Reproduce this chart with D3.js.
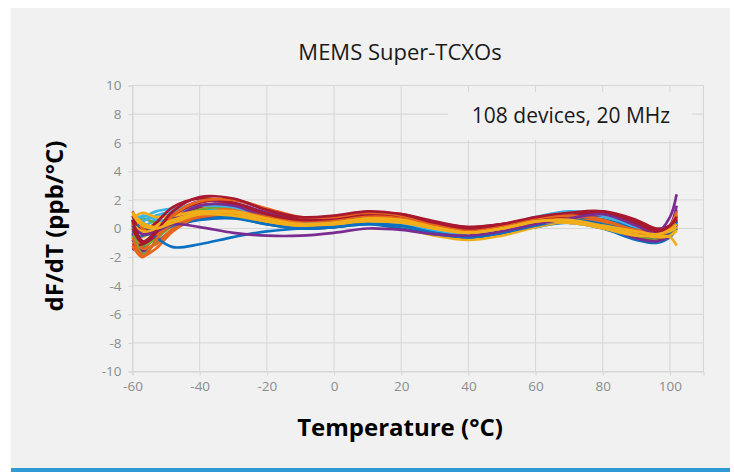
<!DOCTYPE html>
<html>
<head>
<meta charset="utf-8">
<script src="https://cdn.jsdelivr.net/npm/d3@7"></script>
<style>
  body { margin: 0; background: #fff; }
  svg { display: block; font-family: "Open Sans", sans-serif; }
</style>
</head>
<body>
<div id="chart"></div>
<script>
var temps = [-60, -57, -53, -48, -40, -30, -20, -10, 0, 10, 20, 30, 40, 50, 60, 70, 80, 90, 96, 100, 102];

var yTicks = [-10, -8, -6, -4, -2, 0, 2, 4, 6, 8, 10];
var xTicks = [-60, -40, -20, 0, 20, 40, 60, 80, 100];

// dF/dT (ppb/°C), a representative subset of the 108 curves
var series = [
    [-0.4, -1.3, -0.6, 0.4, 1.1, 1.2, 0.6, 0.2, 0.2, 0.4, 0.1, -0.4, -0.7, -0.4, 0.1, 0.4, 0.0, -0.8, -1.0, -0.6, 0.0],
    [0.7, 0.2, 0.6, 1.1, 1.5, 1.3, 0.6, 0.2, 0.3, 0.6, 0.3, -0.3, -0.6, -0.2, 0.6, 1.1, 1.0, 0.3, -0.2, 0.0, 0.8],
    [-1.0, -1.5, -0.4, 0.8, 1.6, 1.7, 1.1, 0.6, 0.7, 1.0, 0.8, 0.2, -0.2, 0.0, 0.4, 0.6, 0.7, -0.3, -0.8, -0.3, 1.3],
    [0.5, -0.4, -0.3, 0.3, 0.9, 0.8, 0.3, 0.0, 0.1, 0.4, 0.1, -0.5, -0.8, -0.5, 0.1, 0.5, 0.3, -0.5, -0.7, -0.4, 0.4],
    [-0.3, -1.1, -0.2, 1.0, 1.9, 1.8, 1.1, 0.6, 0.7, 1.0, 0.8, 0.3, -0.1, 0.1, 0.5, 0.8, 1.0, 0.1, -0.5, -0.2, 0.9],
    [0.1, 0.7, 0.4, 0.7, 1.2, 1.2, 0.7, 0.4, 0.5, 0.8, 0.6, 0.1, -0.2, 0.1, 0.6, 0.8, 0.4, -0.3, -0.5, -0.2, 0.5],
    [0.5, 0.0, 0.3, 0.8, 1.1, 1.0, 0.4, 0.0, 0.2, 0.5, 0.3, -0.3, -0.6, -0.2, 0.4, 0.7, 0.5, -0.3, -0.5, -0.3, 0.3],
    [-0.2, -0.6, 0.2, 0.9, 1.4, 1.3, 0.6, 0.2, 0.3, 0.6, 0.4, -0.1, -0.4, -0.1, 0.4, 0.6, 0.3, -0.3, -0.6, -0.4, -0.2],
    [-1.5, -1.0, -0.6, 0.3, 1.0, 1.2, 0.7, 0.4, 0.6, 0.9, 0.8, 0.3, 0.0, 0.2, 0.5, 0.7, 0.3, -0.6, -0.8, -0.3, 0.5],
    [0.0, 0.9, 0.6, 0.5, 0.7, 0.8, 0.5, 0.2, 0.2, 0.4, 0.3, -0.2, -0.5, -0.1, 0.5, 1.0, 0.8, 0.1, -0.2, 0.0, 0.4],
    [-0.5, -1.2, -0.7, 0.2, 0.9, 1.1, 0.6, 0.3, 0.4, 0.7, 0.5, 0.0, -0.2, 0.0, 0.4, 0.5, 0.2, -0.5, -0.7, -0.4, 0.2],
    [-0.8, -1.6, -1.0, -0.1, 0.7, 0.9, 0.4, 0.1, 0.3, 0.6, 0.4, -0.1, -0.3, 0.0, 0.4, 0.6, 0.2, -0.7, -0.9, -0.5, 0.6],
    [0.4, -1.4, -1.1, 0.0, 1.0, 1.4, 0.9, 0.5, 0.6, 0.9, 0.7, 0.2, -0.1, 0.1, 0.5, 0.7, 0.4, -0.4, -0.6, -0.2, 0.3],
    [-0.9, -0.5, -0.3, 0.2, 0.6, 0.7, 0.3, 0.0, 0.1, 0.4, 0.2, -0.3, -0.5, -0.2, 0.3, 0.5, 0.2, -0.4, -0.6, -0.4, 0.1],
    [0.2, 0.5, 0.9, 1.2, 1.3, 1.1, 0.6, 0.3, 0.3, 0.5, 0.4, 0.0, -0.3, 0.1, 0.6, 1.0, 0.9, 0.2, -0.1, 0.1, 0.2],
    [-1.2, -1.1, -0.5, 0.5, 1.5, 1.7, 1.0, 0.5, 0.6, 0.9, 0.8, 0.3, -0.1, 0.1, 0.5, 0.8, 0.9, 0.0, -0.6, -0.4, 0.3],
    [0.3, -1.8, -0.9, 0.6, 1.3, 1.5, 0.9, 0.5, 0.6, 0.9, 0.7, 0.2, -0.1, 0.1, 0.6, 0.8, 0.5, -0.2, -0.4, 0.0, 0.9],
    [0.8, 0.3, 0.0, 0.5, 0.9, 0.8, 0.3, 0.0, 0.1, 0.3, 0.2, -0.3, -0.6, -0.3, 0.3, 0.7, 0.6, 0.0, -0.4, -0.3, 0.0],
    [0.9, 0.8, 1.2, 1.4, 1.6, 1.5, 0.8, 0.4, 0.4, 0.6, 0.4, -0.1, -0.3, 0.2, 0.8, 1.2, 0.9, 0.1, -0.2, 0.1, 0.6],
    [0.6, -0.9, -0.4, 0.6, 1.6, 1.6, 0.8, 0.3, 0.4, 0.7, 0.5, 0.0, -0.2, 0.1, 0.5, 0.9, 1.1, 0.3, -0.4, 0.2, 1.6],
    [-0.6, -1.9, -1.4, -0.2, 0.9, 1.2, 0.8, 0.5, 0.6, 0.9, 0.7, 0.2, -0.2, 0.0, 0.5, 0.7, 0.3, -0.4, -0.5, -0.1, 0.6],
    [0.7, 1.1, 0.8, 0.9, 1.2, 1.0, 0.5, 0.2, 0.3, 0.5, 0.4, 0.0, -0.3, 0.0, 0.4, 0.5, 0.1, -0.4, -0.6, -0.5, -0.1],
    [0.9, -0.2, 0.4, 1.5, 2.1, 1.8, 1.0, 0.6, 0.7, 1.0, 0.9, 0.4, 0.1, 0.3, 0.7, 0.9, 1.1, 0.5, -0.1, 0.1, 0.7],
    [1.2, 0.0, -0.4, 0.3, 0.8, 1.0, 0.6, 0.3, 0.4, 0.7, 0.6, 0.1, -0.2, 0.0, 0.4, 0.6, 0.5, -0.1, -0.2, 0.2, 1.2],
    [-0.3, 0.4, -0.6, -1.3, -1.1, -0.6, -0.2, 0.0, 0.1, 0.3, 0.0, -0.4, -0.6, -0.3, 0.2, 0.6, 0.3, -0.3, -0.4, -0.2, 0.5],
    [0.3, -0.2, -0.1, 0.5, 1.0, 0.9, 0.5, 0.3, 0.4, 0.7, 0.6, 0.1, -0.2, 0.0, 0.4, 0.4, 0.1, -0.3, -0.4, -0.2, 0.1],
    [0.0, -1.0, -0.3, 0.9, 1.8, 2.0, 1.3, 0.7, 0.8, 1.1, 1.0, 0.5, 0.1, 0.3, 0.6, 0.9, 1.2, 0.6, 0.0, 0.2, 0.6],
    [-1.2, -2.0, -0.8, 0.9, 1.9, 2.0, 1.4, 0.8, 0.8, 1.1, 0.9, 0.3, -0.1, 0.2, 0.7, 0.9, 0.6, -0.2, -0.5, 0.0, 1.0],
    [0.2, -0.4, -0.2, 0.3, 0.1, -0.3, -0.5, -0.5, -0.3, 0.0, -0.1, -0.4, -0.5, -0.2, 0.3, 0.7, 1.0, 0.2, -0.3, 0.8, 2.4],
    [1.1, 0.4, 0.1, 0.6, 1.1, 1.2, 0.7, 0.3, 0.3, 0.6, 0.5, 0.0, -0.3, 0.0, 0.5, 0.6, 0.2, -0.2, -0.4, -0.1, 0.3],
    [0.6, -0.9, -0.2, 1.2, 2.2, 2.1, 1.3, 0.8, 0.9, 1.2, 1.0, 0.4, 0.0, 0.3, 0.8, 1.1, 1.2, 0.4, -0.2, 0.2, 0.8],
    [1.0, 0.2, 0.0, 0.4, 1.0, 1.1, 0.5, 0.2, 0.4, 0.7, 0.5, 0.0, -0.3, 0.0, 0.5, 0.5, 0.0, -0.5, -0.5, -0.6, -1.2]
];

var palette = ["#0b70c2", "#f2ad1b", "#a8182f", "#3cb4e6", "#6aa83e", "#7a2c90", "#e8661c"];
var seriesColor = [0, 3, 6, 1, 5, 4, 0, 1, 2, 3, 4, 5, 6, 0, 3, 2, 4, 0, 3, 5, 6, 1, 2, 6, 0, 1, 2, 6, 5, 1, 2, 1];

var width = 734, height = 472;
var plotLeft = 132.5, plotRight = 703.5, plotTop = 85.5, plotBottom = 371.5;

var svg = d3.select("#chart").append("svg")
    .attr("width", width)
    .attr("height", height);

svg.append("rect")
    .attr("x", 11).attr("y", 8)
    .attr("width", 719).attr("height", 464)
    .attr("fill", "#f1f1f1");

svg.append("rect")
    .attr("x", 11).attr("y", 468)
    .attr("width", 719).attr("height", 4)
    .attr("fill", "#2e9bd6");

var x = d3.scaleLinear().domain([-60, 110]).range([plotLeft, plotRight]);
var y = d3.scaleLinear().domain([-10, 10]).range([plotBottom, plotTop]);

// grid
svg.append("g").selectAll("line")
    .data(yTicks)
    .enter().append("line")
    .attr("x1", plotLeft).attr("x2", plotRight)
    .attr("y1", d => y(d)).attr("y2", d => y(d))
    .attr("stroke", "#d6d6d6");

svg.append("g").selectAll("line")
    .data(xTicks.concat([110]))
    .enter().append("line")
    .attr("x1", d => x(d)).attr("x2", d => x(d))
    .attr("y1", plotTop).attr("y2", plotBottom)
    .attr("stroke", "#d6d6d6");

var xAxis = svg.append("g")
    .attr("transform", "translate(0," + plotBottom + ")")
    .call(d3.axisBottom(x).tickValues(xTicks).tickFormat(d => String(d)).tickSize(4).tickPadding(6));
var yAxis = svg.append("g")
    .attr("transform", "translate(" + plotLeft + ",0)")
    .call(d3.axisLeft(y).tickValues(yTicks).tickFormat(d => String(d)).tickSize(4).tickPadding(7));

[xAxis, yAxis].forEach(function(a) {
    a.select(".domain").attr("stroke", "#d6d6d6");
    a.selectAll(".tick line").attr("stroke", "#d6d6d6");
    a.selectAll("text")
        .attr("fill", "#8c8c8c")
        .style("font-size", "13.5px")
        .style("font-family", "Open Sans, sans-serif");
});

// curves
var line = d3.line()
    .x((d, i) => x(temps[i]))
    .y(d => y(d))
    .curve(d3.curveCatmullRom.alpha(0.5));

var plot = svg.append("g");
plot.selectAll("path")
    .data(series)
    .enter().append("path")
    .attr("d", line)
    .attr("fill", "none")
    .attr("stroke", (d, i) => palette[seriesColor[i]])
    .attr("stroke-width", 2.7)
    .attr("stroke-linejoin", "round");

// note box
svg.append("rect")
    .attr("x", 448).attr("y", 92)
    .attr("width", 244).attr("height", 48)
    .attr("fill", "#f1f1f1");

svg.append("text")
    .attr("x", 571).attr("y", 123)
    .attr("text-anchor", "middle")
    .attr("fill", "#1a1a1a")
    .style("font-size", "21px")
    .text("108 devices, 20 MHz");

svg.append("text")
    .attr("x", 400).attr("y", 60)
    .attr("text-anchor", "middle")
    .attr("fill", "#1a1a1a")
    .style("font-size", "22px")
    .text("MEMS Super-TCXOs");

svg.append("text")
    .attr("x", 400).attr("y", 436)
    .attr("text-anchor", "middle")
    .attr("fill", "#000")
    .style("font-size", "24px")
    .style("font-weight", "bold")
    .text("Temperature (°C)");

svg.append("text")
    .attr("transform", "translate(63,226) rotate(-90)")
    .attr("text-anchor", "middle")
    .attr("fill", "#000")
    .style("font-size", "24px")
    .style("font-weight", "bold")
    .text("dF/dT (ppb/°C)");
</script>
</body>
</html>
